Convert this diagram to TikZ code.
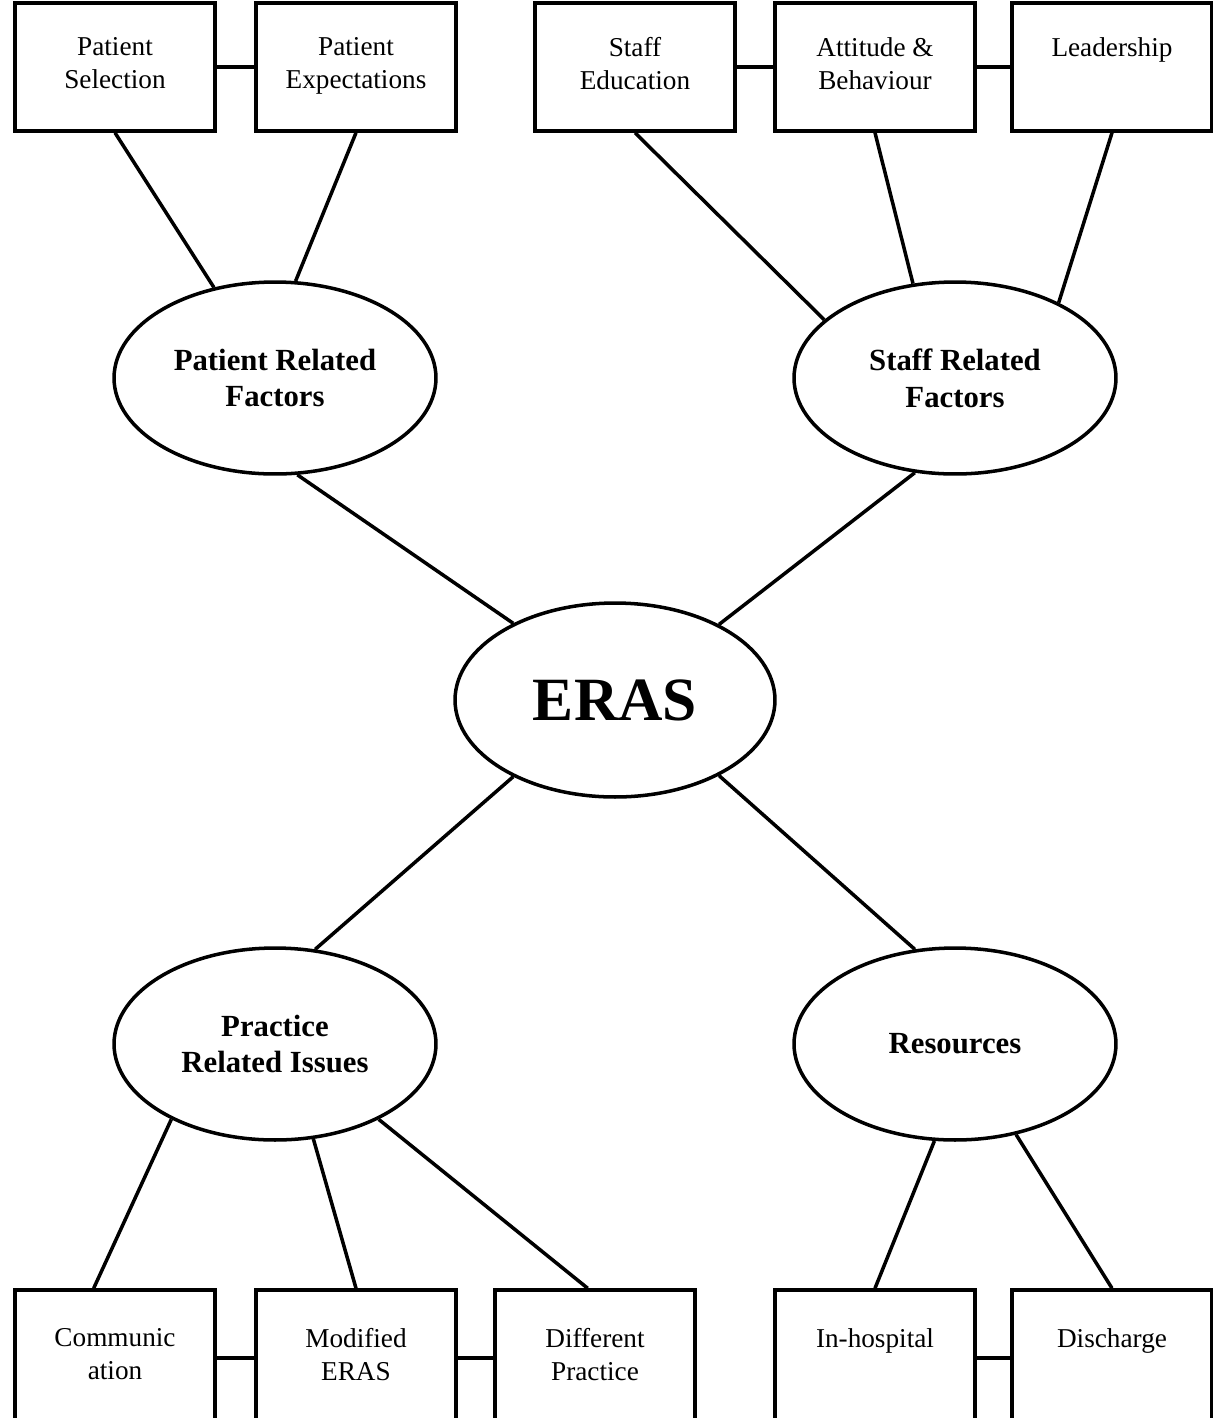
\documentclass[tikz,border=0pt]{standalone}
\usepackage{fontspec}
\setmainfont{Liberation Serif}
\usetikzlibrary{shapes.geometric}
\begin{document}
\begin{tikzpicture}[x=0.02cm,y=-0.02cm,
factor/.style={
	% The shape:
	rectangle,
	% The size:
	minimum width=4cm,minimum height=2.56cm,
	% The border:
	line width=2pt,
	draw=black,
	% Font
	font=\fontsize{15.5}{19}\selectfont,text depth=1.5mm},
lowfactor/.style={factor,minimum height=2.72cm},
group/.style={
	% The shape:
	ellipse,minimum width=6.44cm,minimum height=3.84cm,inner sep=0pt,
	% The rest
	line width=2pt,draw=black,
	font=\bfseries\fontsize{17.5}{21}\selectfont},
link/.style={line width=2pt},
align=center]

\useasboundingbox (0,0) rectangle (1213,1418);

%Begin top row
\node (PS) [factor] at (115,67) {Patient\\Selection};
\node (PE) [factor] at (356,67) {Patient\\Expectations};
\node (SE) [factor] at (635,67) {Staff\\Education};
\node (AB) [factor] at (875,67) {Attitude \&\\Behaviour};
\node (LS) [factor] at (1112,67) {Leadership\\\mbox{}};

% Now come the groups...
\node (PRF) [group] at (275,378) {Patient Related\\Factors};
\node (SRF) [group] at (955,378) {Staff Related\\Factors};
\node (ERAS) [group,minimum width=6.4cm,minimum height=3.88cm,
	font=\bfseries\fontsize{35}{40}\selectfont] at (615,700) {ERAS};
\node (PRI) [group] at (275,1044) {Practice\\Related Issues};
\node (RES) [group] at (955,1044) {Resources};

%Begin bottom row
\node (COM) [lowfactor] at (115,1358) {Communic\\ation};
\node (MOD) [lowfactor] at (356,1358) {Modified\\ERAS};
\node (DIF) [lowfactor] at (595,1358) {Different\\Practice};
\node (INH) [lowfactor] at (875,1358) {In-hospital\\\mbox{}};
\node (DIS) [lowfactor] at (1112,1358) {Discharge\\\mbox{}};

% links along the rows
\draw[link] (PS.east) -- (PE.west);
\draw[link] (SE.east) -- (AB.west);
\draw[link] (AB.east) -- (LS.west);
\draw[link] (COM.east) -- (MOD.west);
\draw[link] (MOD.east) -- (DIF.west);
\draw[link] (INH.east) -- (DIS.west);

% spokes
\draw[link] (PS.south) -- (PRF.124);
\draw[link] (PE.south) -- (PRF.78);
\draw[link] (SE.south) -- (SRF.156);
\draw[link] (AB.south) -- (SRF.114);
\draw[link] (LS.south) -- (SRF.36);
\draw[link] (PRF.283) -- (ERAS.143);
\draw[link] (SRF.247) -- (ERAS.36);
\draw[link] (ERAS.217) -- (PRI.67);
\draw[link] (ERAS.324) -- (RES.113);
\draw[link] (PRI.216) -- (COM.107);
\draw[link] (PRI.292) -- (MOD.north);
\draw[link] (PRI.324) -- (DIF.96);
\draw[link] (RES.258) -- (INH.north);
\draw[link] (RES.304) -- (DIS.north);

\end{tikzpicture}
\end{document}
